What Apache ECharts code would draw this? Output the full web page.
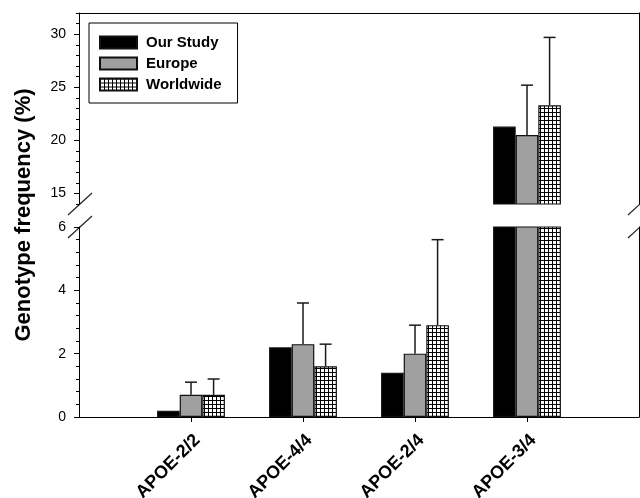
<!DOCTYPE html>
<html>
<head>
<meta charset="utf-8">
<script src="https://cdn.jsdelivr.net/npm/echarts@6/dist/echarts.min.js"></script>
<style>
  html, body { margin: 0; padding: 0; background: #fff; }
  #chart { width: 640px; height: 498px; }
</style>
</head>
<body>
<div id="chart"></div>
<script>
// Genotype frequencies (%) with upper error bars (SD)
const categories = ['', 'APOE-2/2', 'APOE-4/4', 'APOE-2/4', 'APOE-3/4', ''];
const seriesNames = ['Our Study', 'Europe', 'Worldwide'];

const ourStudy     = [null, 0.2, 2.2, 1.4, 21.3, null];
const europe       = [null, 0.7, 2.3, 2.0, 20.5, null];
const worldwide    = [null, 0.7, 1.6, 2.9, 23.3, null];

const ourStudyErr  = [null, null, null, null, null, null];
const europeErr    = [null, 0.4, 1.3, 0.9, 4.7, null];
const worldwideErr = [null, 0.5, 0.7, 2.7, 6.4, null];

// broken value axis: lower and upper segments
const lowerRange = [0, 6];
const upperRange = [14, 32];
const lowerTicks = [0, 2, 4, 6];
const upperTicks = [15, 20, 25, 30];
const lowerMinorStep = 0.4;
const upperMinorStep = 1;

// layout
const LEFT = 79, RIGHT = 1;
const UP_TOP = 13, UP_H = 191;
const LO_TOP = 227, LO_H = 190;
const W = 640, H = 498;
const BAR_W = 22.6;
const FONT = '"Liberation Sans", Arial, Helvetica, sans-serif';
const INK = '#000';

function hatchCanvas() {
  const c = document.createElement('canvas');
  c.width = 4; c.height = 4;
  const g = c.getContext('2d');
  g.fillStyle = '#fff'; g.fillRect(0, 0, 4, 4);
  g.fillStyle = '#000';
  g.fillRect(0, 0, 4, 1);
  g.fillRect(0, 0, 1, 4);
  return c;
}

const fills = ['#000', '#a0a0a0', { image: hatchCanvas(), repeat: 'repeat' }];
const values = [ourStudy, europe, worldwide];
const errs = [ourStudyErr, europeErr, worldwideErr];

function barSeries(k, upper) {
  return {
    name: seriesNames[k],
    type: 'bar',
    xAxisIndex: upper ? 0 : 1,
    yAxisIndex: upper ? 0 : 3,
    barWidth: BAR_W,
    barGap: '0%',
    clip: true,
    data: values[k].map(v => (v == null || (upper && v < upperRange[0])) ? '-' : v),
    itemStyle: { color: fills[k], borderColor: '#111', borderWidth: 1.2 },
    emphasis: { disabled: true }
  };
}

function errData(upper) {
  const out = [];
  values.forEach((arr, k) => arr.forEach((v, i) => {
    const e = errs[k][i];
    if (v == null || e == null) return;
    const inUpper = v >= upperRange[0];
    if (inUpper === upper) out.push([i, v, v + e, k]);
  }));
  return out;
}

function renderErr(params, api) {
  const i = api.value(0), v = api.value(1), top = api.value(2), k = api.value(3);
  const base = api.coord([i, v]);
  const tip = api.coord([i, top]);
  const x = base[0] + (k - 1) * BAR_W;
  const st = { stroke: '#1a1a1a', lineWidth: 1.5 };
  return {
    type: 'group',
    children: [
      { type: 'line', shape: { x1: x, y1: base[1], x2: x, y2: tip[1] }, style: st },
      { type: 'line', shape: { x1: x - 6, y1: tip[1], x2: x + 6, y2: tip[1] }, style: st }
    ]
  };
}

function errSeries(upper) {
  return {
    type: 'custom',
    xAxisIndex: upper ? 0 : 1,
    yAxisIndex: upper ? 0 : 3,
    encode: { x: 0, y: 1 },
    data: errData(upper),
    renderItem: renderErr,
    z: 5,
    silent: true
  };
}

const lineStyle = { color: INK, width: 1 };
const tickLabel = { color: INK, fontFamily: FONT, fontSize: 14, margin: 13 };

// break marks on both ends of the gap, left and right
const breakMarks = [];
[UP_TOP + UP_H, LO_TOP].forEach(y => {
  [LEFT, W - RIGHT].forEach(x => {
    breakMarks.push({
      type: 'line',
      shape: { x1: x - 11, y1: y + 11, x2: x + 13, y2: y - 11 },
      style: { stroke: '#222', lineWidth: 1.2 },
      silent: true
    });
  });
});

const option = {
  animation: false,
  backgroundColor: '#fff',
  grid: [
    { left: LEFT, right: RIGHT, top: UP_TOP, height: UP_H, outerBoundsMode: 'none' },
    { left: LEFT, right: RIGHT, top: LO_TOP, height: LO_H, outerBoundsMode: 'none' }
  ],
  xAxis: [
    {
      gridIndex: 0, type: 'category', data: categories, boundaryGap: false, position: 'top',
      axisLine: { show: true, lineStyle }, axisTick: { show: false }, axisLabel: { show: false },
      splitLine: { show: false }
    },
    {
      gridIndex: 1, type: 'category', data: categories, boundaryGap: false, position: 'bottom',
      axisLine: { show: true, lineStyle },
      axisTick: { show: true, length: 5, lineStyle, interval: (i, v) => v !== '' },
      axisLabel: {
        interval: (i, v) => v !== '', rotate: 45, color: INK, fontFamily: FONT,
        fontSize: 18, fontWeight: 'bold', margin: 14, align: 'right', verticalAlign: 'top'
      },
      splitLine: { show: false }
    }
  ],
  yAxis: [
    { // upper segment, labelled ticks
      gridIndex: 0, type: 'value', position: 'left', min: upperRange[0], max: upperRange[1],
      axisLine: { show: true, lineStyle },
      axisTick: { show: true, length: 5, lineStyle, customValues: upperTicks },
      axisLabel: Object.assign({ customValues: upperTicks }, tickLabel),
      splitLine: { show: false }
    },
    { // upper segment, minor ticks
      gridIndex: 0, type: 'value', position: 'left', min: upperRange[0], max: upperRange[1],
      interval: upperMinorStep,
      axisLine: { show: false }, axisTick: { show: true, length: 3, lineStyle },
      axisLabel: { show: false }, splitLine: { show: false }
    },
    { // upper segment, right frame
      gridIndex: 0, type: 'value', position: 'right', min: upperRange[0], max: upperRange[1],
      axisLine: { show: true, lineStyle }, axisTick: { show: false },
      axisLabel: { show: false }, splitLine: { show: false }
    },
    { // lower segment, labelled ticks
      gridIndex: 1, type: 'value', position: 'left', min: lowerRange[0], max: lowerRange[1],
      axisLine: { show: true, lineStyle },
      axisTick: { show: true, length: 5, lineStyle, customValues: lowerTicks },
      axisLabel: Object.assign({ customValues: lowerTicks }, tickLabel),
      splitLine: { show: false }
    },
    { // lower segment, right frame
      gridIndex: 1, type: 'value', position: 'right', min: lowerRange[0], max: lowerRange[1],
      axisLine: { show: true, lineStyle }, axisTick: { show: false },
      axisLabel: { show: false }, splitLine: { show: false }
    },
    { // lower segment, minor ticks
      gridIndex: 1, type: 'value', position: 'left', min: lowerRange[0], max: lowerRange[1],
      interval: lowerMinorStep,
      axisLine: { show: false }, axisTick: { show: true, length: 3, lineStyle },
      axisLabel: { show: false }, splitLine: { show: false }
    }
  ],
  legend: {
    data: seriesNames,
    orient: 'vertical',
    left: 89, top: 23,
    icon: 'rect',
    itemWidth: 37, itemHeight: 12, itemGap: 6,
    padding: [12, 16, 11, 10],
    borderColor: '#000', borderWidth: 1,
    selectedMode: false,
    textStyle: { color: INK, fontFamily: FONT, fontWeight: 'bold', fontSize: 15, padding: [0, 0, 0, 4] }
  },
  graphic: [
    {
      type: 'text', x: 24, y: 215, rotation: Math.PI / 2, silent: true,
      style: {
        text: 'Genotype frequency (%)', fill: INK,
        font: 'bold 22px ' + FONT, align: 'center', verticalAlign: 'middle'
      }
    }
  ].concat(breakMarks),
  series: [
    barSeries(0, true), barSeries(1, true), barSeries(2, true),
    barSeries(0, false), barSeries(1, false), barSeries(2, false),
    errSeries(true), errSeries(false)
  ]
};

const chart = echarts.init(document.getElementById('chart'), null, { renderer: 'canvas' });
chart.setOption(option);
</script>
</body>
</html>
